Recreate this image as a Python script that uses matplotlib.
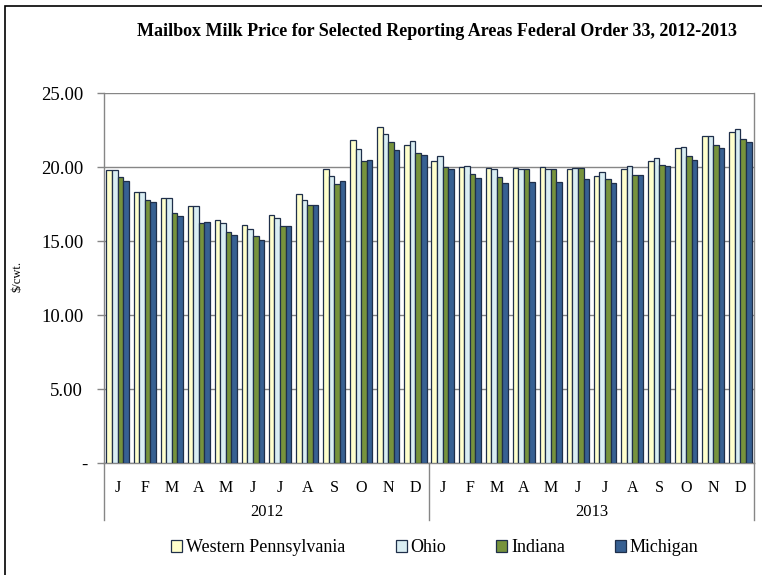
import matplotlib
matplotlib.use("Agg")
import matplotlib.pyplot as plt
import matplotlib.transforms as mtransforms
from matplotlib.patches import Rectangle
import numpy as np

plt.rcParams['font.family'] = ['Liberation Serif', 'DejaVu Serif']

months = ['J', 'F', 'M', 'A', 'M', 'J', 'J', 'A', 'S', 'O', 'N', 'D'] * 2
years = ['2012', '2013']
series = ['Western Pennsylvania', 'Ohio', 'Indiana', 'Michigan']

western_pa = [19.80, 18.33, 17.88, 17.34, 16.40, 16.06, 16.78, 18.15, 19.84, 21.85, 22.70, 21.49,
              20.43, 20.00, 19.91, 19.91, 19.98, 19.84, 19.37, 19.84, 20.43, 21.28, 22.07, 22.34]
ohio = [19.80, 18.33, 17.88, 17.34, 16.19, 15.79, 16.58, 17.79, 19.41, 21.20, 22.21, 21.78,
        20.72, 20.07, 19.84, 19.84, 19.84, 19.91, 19.64, 20.07, 20.63, 21.35, 22.07, 22.54]
indiana = [19.35, 17.77, 16.91, 16.19, 15.63, 15.36, 16.01, 17.41, 18.85, 20.43, 21.71, 20.93,
           19.98, 19.55, 19.35, 19.84, 19.84, 19.91, 19.21, 19.48, 20.14, 20.77, 21.49, 21.91]
michigan = [19.08, 17.64, 16.71, 16.28, 15.43, 15.05, 16.01, 17.41, 19.08, 20.50, 21.13, 20.79,
            19.84, 19.28, 18.92, 19.01, 19.01, 19.21, 18.92, 19.48, 20.07, 20.50, 21.26, 21.71]

colors = ['#FFFFCC', '#DAEEF3', '#77933C', '#376092']
values = [western_pa, ohio, indiana, michigan]

W, H = 762, 575
fig = plt.figure(figsize=(W / 100, H / 100), dpi=100)
ax = fig.add_axes([104 / W, 1 - 463 / H, (754 - 104) / W, (463 - 93) / H])

x = np.arange(len(months))
w = 0.205
for k, (name, vals, c) in enumerate(zip(series, values, colors)):
    ax.bar(x + (k - 1.5) * w, vals, width=w, color=c, edgecolor='#1F2F4A',
           linewidth=0.9, label=name, zorder=3)

ax.set_xlim(-0.5, len(months) - 0.5)
ax.set_ylim(0, 25)
ax.set_yticks([0, 5, 10, 15, 20, 25])
ax.set_yticklabels(['-'] + ['%.2f' % v for v in [5, 10, 15, 20, 25]], fontsize=13.5)
ax.yaxis.grid(True, color='#868686', linewidth=1, zorder=0)
ax.set_axisbelow(True)
ax.tick_params(axis='y', length=5, width=1, color='#868686', pad=10)
# the dash for zero sits a little further right, like Excel's accounting format
zero_lbl = ax.get_yticklabels()[0]
zero_lbl.set_transform(zero_lbl.get_transform() +
                       mtransforms.ScaledTranslation(4 / 100, 0, fig.dpi_scale_trans))

ax.set_xticks(x)
ax.set_xticklabels(months, fontsize=11.5)
ax.tick_params(axis='x', length=0, pad=12)

ax.spines['top'].set_visible(False)
for s in ['left', 'right', 'bottom']:
    ax.spines[s].set_color('#868686')
    ax.spines[s].set_linewidth(1)

# year labels and group separators below the axis
trans = mtransforms.blended_transform_factory(ax.transData, ax.transAxes)
sep_bottom = -(520 - 463) / (463 - 93)
for b in [-0.5, 11.5, 23.5]:
    ax.plot([b, b], [0, sep_bottom], transform=trans, color='#868686',
            linewidth=1, clip_on=False)
for i, yr in enumerate(years):
    ax.text(5.5 + 12 * i, -(512 - 463) / (463 - 93), yr, transform=trans,
            ha='center', va='center', fontsize=12)

fig.text(17 / W, 1 - 276 / H, '$/cwt.', rotation=90, ha='center', va='center', fontsize=9)

fig.text(437 / W, 1 - 31 / H,
         'Mailbox Milk Price for Selected Reporting Areas Federal Order 33, 2012-2013',
         ha='center', va='center', fontsize=13, fontweight='bold')

fig.legend(loc='center', bbox_to_anchor=(435 / W, 1 - 548 / H), ncol=4, frameon=False,
           fontsize=13, handlelength=0.6, handleheight=0.6, handletextpad=0.2,
           columnspacing=2.8)

# outer chart border
fig.patches.append(Rectangle((5 / W, -0.1), 1.2, 1 - 6 / H + 0.1, transform=fig.transFigure,
                             fill=False, edgecolor='black', linewidth=1.2))

fig.savefig('out.png', dpi=100)
